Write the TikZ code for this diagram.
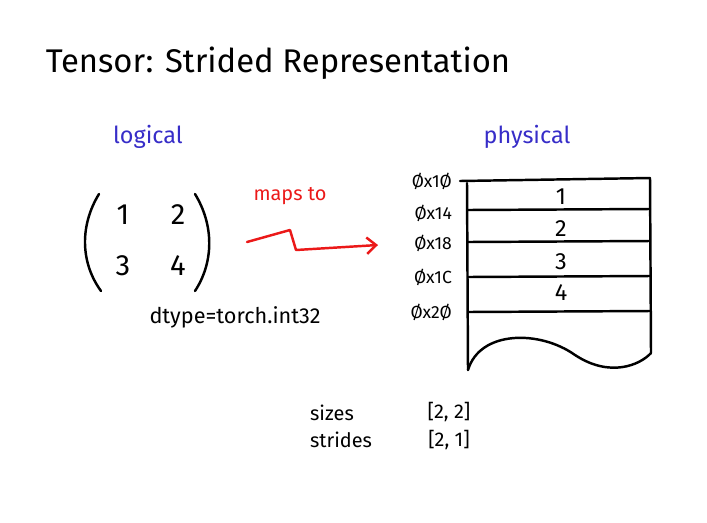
\documentclass[tikz,border=0pt]{standalone}
\usepackage{fontspec}
\setmainfont{Fira Sans}
\usetikzlibrary{positioning,arrows.meta}
\definecolor{penblue}{RGB}{55,45,200}
\definecolor{penred}{RGB}{235,25,25}
\tikzset{
  ink/.style={line width=2.1pt, line cap=round, line join=round},
  entry/.style={font=\fontsize{25}{28}\selectfont},
  cell/.style={font=\fontsize{20}{24}\selectfont},
  addr/.style={font=\fontsize{15}{18}\selectfont, anchor=east},
  head/.style={font=\fontsize{20}{24}\selectfont, text=penblue},
  small/.style={font=\fontsize{17}{20}\selectfont}
}
\begin{document}
\begin{tikzpicture}[x=0.03cm, y=-0.03cm, >={Straight Barb[length=8pt, width=14pt]}]
\useasboundingbox (0,0) rectangle (707,522);

% title
\node (title) at (278,63) {\fontsize{28}{34}\selectfont Tensor: Strided Representation};

% headings
\node[head] (logical) at (148,137) {logical};
\node[head] (physical) at (527,137) {physical};

% logical matrix
\node[entry] (m11) at (123,215) {1};
\node[entry] (m12) at (178,215) {2};
\node[entry] (m21) at (123,266) {3};
\node[entry] (m22) at (178,266) {4};
\draw[ink] (99,194) .. controls (80,225) and (80,262) .. (101,291);
\draw[ink] (195,194) .. controls (214,225) and (214,262) .. (195,291);
\node[small, font=\fontsize{18.5}{22}\selectfont] (dtype) at (235,317) {dtype=torch.int32};

% maps to
\node[small, text=penred] (maps) at (290,196) {maps to};
\coordinate (a0) at (247,242);
\coordinate (a1) at (378,245);
\draw[ink, penred, ->] (a0) -- (290,230) -- (296,250) -- (a1);

% physical memory
\coordinate (tl) at (460,181);
\coordinate (tr) at (650,178);
\coordinate (bl) at (468,370);
\coordinate (br) at (651,353);
\draw[ink] (tl) -- (tr);
\draw[ink] (467,183) -- (bl);
\draw[ink] (tr) -- (br);
\draw[ink] (bl) .. controls (480,330) and (540,330) .. (575,355)
  .. controls (610,378) and (640,365) .. (br);
\foreach \y in {210,242,277,312}
  \draw[ink] (468,\y) -- (650,\y-1);

% addresses
\node[addr] (ad0) at (456,181) {Øx1Ø};
\node[addr] (ad1) at (456,213) {Øx14};
\node[addr] (ad2) at (456,243) {Øx18};
\node[addr] (ad3) at (456,277) {Øx1C};
\node[addr] (ad4) at (456,312) {Øx2Ø};

% cell values
\node[cell] (c1) at (561,197) {1};
\node[cell] (c2) at (561,229) {2};
\node[cell] (c3) at (561,262) {3};
\node[cell] (c4) at (561,293) {4};

% sizes and strides
\node[small, anchor=west] (sizes) at (306,413) {sizes};
\node[small, anchor=west] (strides) at (306,440) {strides};
\node[small] (sv) at (449,412) {[2, 2]};
\node[small] (st) at (449,440) {[2, 1]};
\end{tikzpicture}
\end{document}
